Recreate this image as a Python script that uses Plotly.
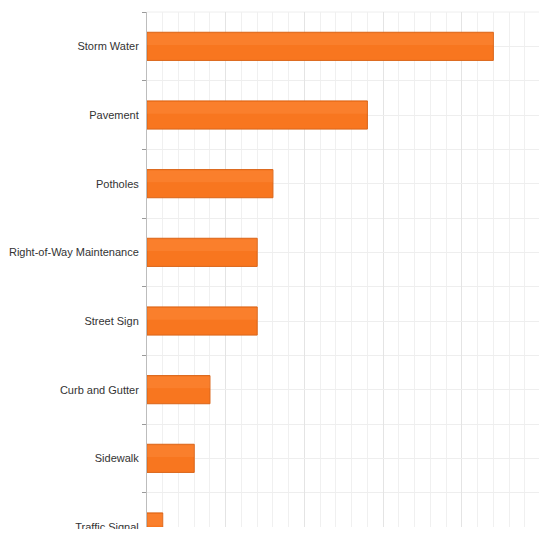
import plotly.graph_objects as go

# Service request categories, top to bottom, with their counts
categories = [
    "Storm Water",
    "Pavement",
    "Potholes",
    "Right-of-Way Maintenance",
    "Street Sign",
    "Curb and Gutter",
    "Sidewalk",
    "Traffic Signal",
]
counts = [22, 14, 8, 7, 7, 4, 3, 1]

positions = list(range(len(categories)))

fig = go.Figure()

# main bars
fig.add_trace(go.Bar(
    x=counts,
    y=positions,
    orientation="h",
    width=0.41,
    marker=dict(color="#F8761F", line=dict(color="#DA6418", width=1)),
    hoverinfo="x+text",
    hovertext=categories,
    showlegend=False,
))

# soft highlight along the upper part of each bar
fig.add_trace(go.Bar(
    x=counts,
    y=positions,
    orientation="h",
    width=0.17,
    offset=-0.19,
    marker=dict(color="rgba(255,150,80,0.28)", line=dict(width=0)),
    hoverinfo="skip",
    showlegend=False,
))

fig.update_layout(
    width=539,
    height=535,
    margin=dict(l=147, r=0, t=12, b=8, autoexpand=False),
    paper_bgcolor="white",
    plot_bgcolor="white",
    barmode="overlay",
    font=dict(family="Liberation Sans, Arial, sans-serif", size=11, color="#333333"),
    xaxis=dict(
        range=[0, 24.9],
        dtick=5,
        showgrid=True,
        gridcolor="#e4e4e4",
        gridwidth=1,
        showticklabels=False,
        ticks="",
        zeroline=False,
        showline=False,
        minor=dict(dtick=1, showgrid=True, gridcolor="#f0f0f0", gridwidth=1),
    ),
    yaxis=dict(
        range=[7.0, -0.5],
        automargin=False,
        tickmode="array",
        tickvals=positions,
        ticktext=categories,
        ticks="",
        ticklabelstandoff=5,
        showgrid=True,
        gridcolor="#eeeeee",
        zeroline=False,
        showline=True,
        linecolor="#bdbdbd",
        linewidth=1,
        minor=dict(tick0=0.5, dtick=1, ticks="outside", ticklen=4,
                   tickcolor="#9a9a9a", showgrid=True, gridcolor="#eeeeee"),
    ),
    shapes=[
        # white strip below the plot area, trimming the last label
        dict(type="rect", xref="paper", yref="paper", x0=-0.5, x1=1.0, y0=-0.03, y1=-0.004,
             fillcolor="white", line=dict(width=0), layer="above"),
        # top boundary line of the plot area
        dict(type="line", xref="paper", yref="paper", x0=0, x1=1, y0=1, y1=1,
             line=dict(color="#eeeeee", width=1), layer="below"),
    ],
)

fig.write_html("out.html")
